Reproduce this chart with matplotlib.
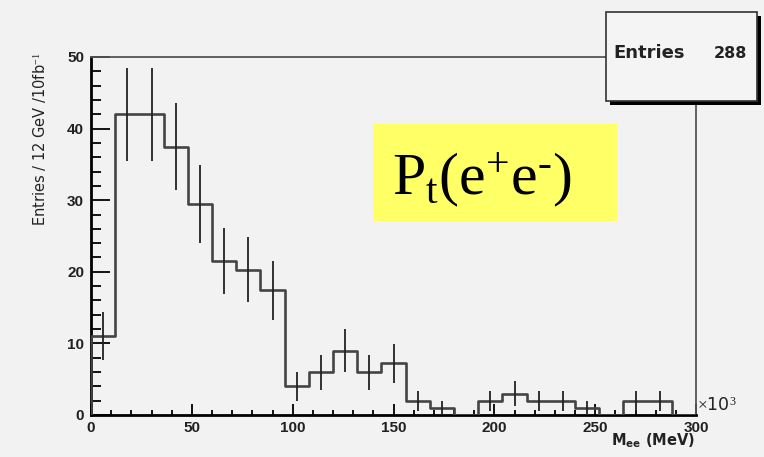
import numpy as np
import matplotlib
matplotlib.use('Agg')
import matplotlib.pyplot as plt
import matplotlib as mpl
from matplotlib.patches import Rectangle

mpl.rcParams['mathtext.fontset'] = 'custom'
mpl.rcParams['mathtext.rm'] = 'Liberation Serif'
mpl.rcParams['mathtext.it'] = 'Liberation Serif:italic'

# histogram contents, 25 bins of 12 (x10^3 MeV)
bin_edges = np.arange(0, 301, 12)
counts = [11, 42, 42, 37.5, 29.5, 21.5, 20.3, 17.4, 4, 6,
          9, 6, 7.2, 2, 1, 0, 2, 3, 2, 2,
          1, 0, 2, 2, 0]
entries = 288

counts = np.array(counts, dtype=float)
centers = 0.5 * (bin_edges[:-1] + bin_edges[1:])
errors = np.sqrt(counts)

W, H = 764, 457
fig = plt.figure(figsize=(W / 100, H / 100), dpi=100)
fig.patch.set_facecolor('#f2f2f2')

ax = fig.add_axes([91 / W, 1 - 415 / H, (696 - 91) / W, (415 - 57) / H])
ax.set_facecolor('#f2f2f2')

# step outline
xs = np.repeat(bin_edges, 2)
ys = np.concatenate([[0], np.repeat(counts, 2), [0]])
ax.plot(xs, ys, color='#444444', lw=1.9, zorder=3)

# error bars (sqrt N)
nz = counts > 0
ax.vlines(centers[nz], counts[nz] - errors[nz], counts[nz] + errors[nz],
          color='#222222', lw=1.3, zorder=4)

ax.set_xlim(0, 300)
ax.set_ylim(0, 50)
ax.set_xticks(np.arange(0, 301, 50))
ax.set_xticks(np.arange(0, 301, 10), minor=True)
ax.set_yticks(np.arange(0, 51, 10))
ax.set_yticks(np.arange(0, 51, 2), minor=True)

ax.tick_params(axis='both', which='both', direction='in', color='black',
               labelsize=11)
ax.tick_params(axis='x', which='major', length=8, width=1.3, pad=4)
ax.tick_params(axis='x', which='minor', length=3.5, width=1.3)
ax.tick_params(axis='y', which='major', length=13.5, width=1.3, pad=5)
ax.tick_params(axis='y', which='minor', length=7, width=1.3)
for lab in ax.get_xticklabels() + ax.get_yticklabels():
    lab.set_fontweight('bold')
    lab.set_family('Liberation Sans')
    lab.set_color('#222222')

for s in ['left', 'bottom']:
    ax.spines[s].set_linewidth(2)
    ax.spines[s].set_color('black')
for s in ['top', 'right']:
    ax.spines[s].set_linewidth(1.3)
    ax.spines[s].set_color('#555555')

# axis titles
fig.text(40 / W, 1 - 52 / H, r'Entries / 12 GeV /10fb$^{-1}$', rotation=90,
         ha='center', va='top', fontsize=10.5, family='DejaVu Sans',
         color='#222222')
fig.text(695 / W, 1 - 441 / H, r'M$_{\mathbf{ee}}$ (MeV)', ha='right',
         va='center', fontsize=10.5, family='DejaVu Sans', fontweight='bold',
         color='#222222')
fig.text(697 / W, 1 - 406 / H, r'$\times$10$^{3}$', ha='left', va='center',
         fontsize=12.5, family='DejaVu Sans', color='#222222')

# stats box with shadow
bx0, by0, bx1, by1 = 606, 12, 757, 101
shadow = Rectangle(((bx0 + 4) / W, 1 - (by1 + 4) / H), (bx1 - bx0) / W,
                   (by1 - by0) / H, transform=fig.transFigure,
                   facecolor='black', edgecolor='none', zorder=10)
fig.patches.append(shadow)
box = Rectangle((bx0 / W, 1 - by1 / H), (bx1 - bx0) / W, (by1 - by0) / H,
                transform=fig.transFigure, facecolor='#f4f4f4',
                edgecolor='#333333', lw=1.2, zorder=11)
fig.patches.append(box)
fig.text(613 / W, 1 - 53 / H, 'Entries', ha='left', va='center',
         fontsize=13, family='DejaVu Sans', fontweight='bold',
         color='#222222', zorder=12)
fig.text(747 / W, 1 - 53 / H, str(entries), ha='right', va='center',
         fontsize=11.5, family='DejaVu Sans', fontweight='bold',
         color='#222222', zorder=12)

# yellow label
ylab = Rectangle((373 / W, 1 - 221 / H), (617 - 373) / W, (221 - 124) / H,
                 transform=fig.transFigure, facecolor='#ffff66',
                 edgecolor='none', zorder=8)
fig.patches.append(ylab)
fig.text(392 / W, 1 - 195 / H, r'$\mathrm{P_t(e^{+}e^{\text{-}})}$',
         ha='left', va='baseline', fontsize=43, color='black', zorder=9)

fig.savefig('out.png', dpi=100, facecolor=fig.get_facecolor())
